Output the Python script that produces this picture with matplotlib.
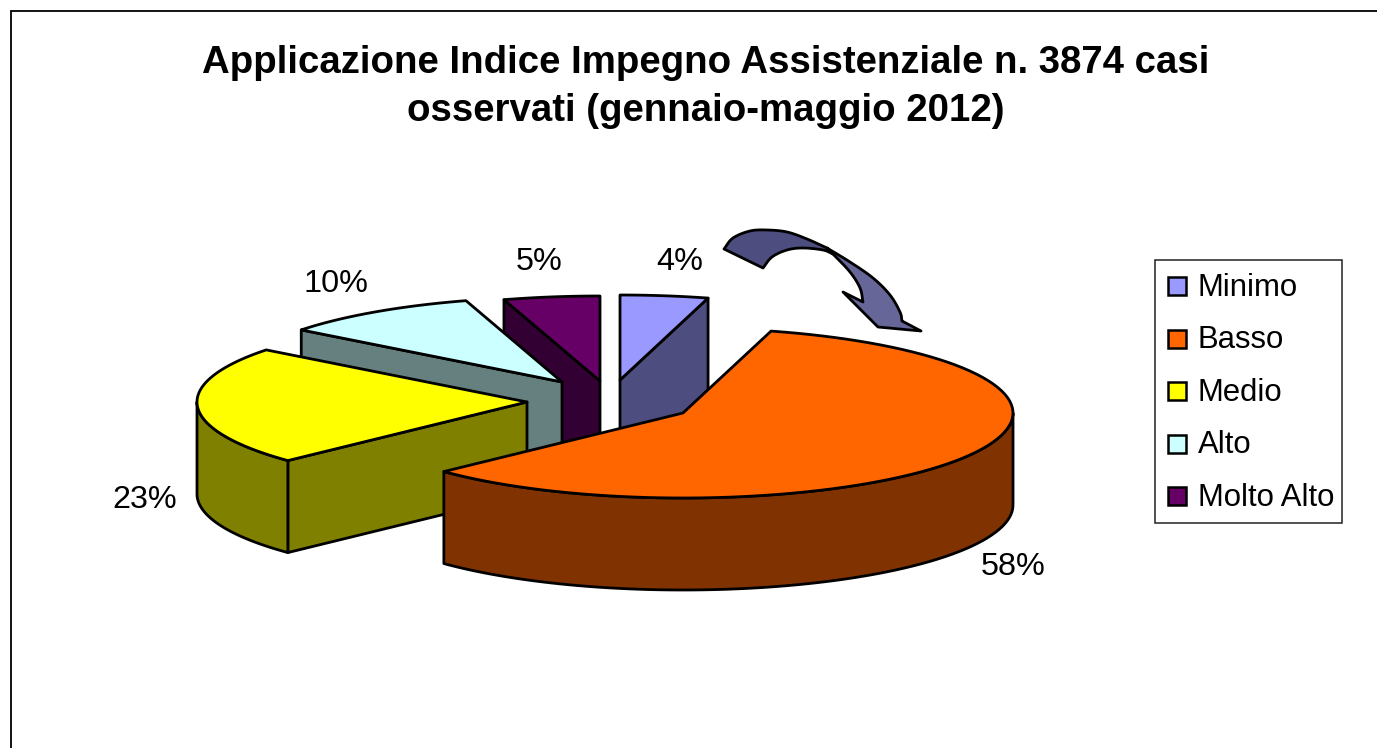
import numpy as np
import matplotlib
matplotlib.use("Agg")
import matplotlib.pyplot as plt
from matplotlib.patches import Polygon, Rectangle

plt.rcParams['font.family'] = ['Liberation Sans', 'DejaVu Sans']

# data
categories = ["Minimo", "Basso", "Medio", "Alto", "Molto Alto"]
values = [4.3, 58.6, 22.6, 9.8, 4.7]
labels = ["4%", "58%", "23%", "10%", "5%"]
title_lines = ["Applicazione Indice Impegno Assistenziale n. 3874 casi",
               "osservati (gennaio-maggio 2012)"]

# style / layout
top_colors = ["#9999FF", "#FF6600", "#FFFF00", "#CCFFFF", "#660066"]
side_colors = ["#4D4D80", "#803300", "#808000", "#668080", "#330033"]
apexes = [(620, 380), (683, 413), (527, 402), (562, 382), (600, 381)]
label_pos = [(680, 262), (1013, 567), (145, 500), (336, 284), (539, 262)]
RX, RY, DEPTH = 330, 85, 92
LW = 2.0

W, H = 1377, 748
fig = plt.figure(figsize=(W / 100, H / 100), dpi=100, facecolor="white")
ax = fig.add_axes([0, 0, 1, 1])
ax.set_xlim(0, W)
ax.set_ylim(H, 0)
ax.axis("off")


def poly(pts, fc, z):
    ax.add_patch(Polygon(pts, closed=True, facecolor=fc, edgecolor="black",
                         linewidth=LW, joinstyle="round", zorder=z))


def rim(apex, a0, a1, n=90):
    t = np.radians(np.linspace(a0, a1, n))
    return np.column_stack([apex[0] + RX * np.sin(t), apex[1] - RY * np.cos(t)])


def drop(pts):
    return np.asarray(pts) + np.array([0, DEPTH])


def smooth(pts, n=10):
    """Catmull-Rom run through outline points of the decorative arrow."""
    p = np.asarray(pts, float)
    p = np.vstack([2 * p[0] - p[1], p, 2 * p[-1] - p[-2]])
    out = []
    for i in range(1, len(p) - 2):
        for t in np.linspace(0, 1, n, endpoint=False):
            out.append(0.5 * (2 * p[i] + (p[i + 1] - p[i - 1]) * t
                              + (2 * p[i - 1] - 5 * p[i] + 4 * p[i + 1] - p[i + 2]) * t ** 2
                              + (3 * p[i] - p[i - 1] - 3 * p[i + 1] + p[i + 2]) * t ** 3))
    out.append(p[-2])
    return np.array(out)


edges = np.concatenate([[0], np.cumsum(values)]) / sum(values) * 360
# painter's order: back slices first, the big front slice last
order = [0, 4, 3, 2, 1]
for rank, i in enumerate(order):
    a0, a1 = edges[i], edges[i + 1]
    ap = apexes[i]
    z = 2 + rank
    arc = rim(ap, a0, a1)
    # radial cut faces
    if np.sin(np.radians(a1)) > 0.001:
        seg = np.array([ap, arc[-1]])
        poly(np.vstack([seg, drop(seg)[::-1]]), side_colors[i], z)
    if np.sin(np.radians(a0)) < -0.001:
        seg = np.array([ap, arc[0]])
        poly(np.vstack([seg, drop(seg)[::-1]]), side_colors[i], z)
    # outer wall: only the front half of the rim
    lo, hi = max(a0, 90), min(a1, 270)
    if hi > lo:
        w = rim(ap, lo, hi)
        poly(np.vstack([w, drop(w)[::-1]]), side_colors[i], z)
    # top face
    poly(np.vstack([[ap], arc]), top_colors[i], z)

for (x, y), s in zip(label_pos, labels):
    ax.text(x, y, s, ha="center", va="center", fontsize=23.3, color="black", zorder=10)

# title
ax.text(705.5, 63, title_lines[0], ha="center", va="center", fontsize=27.6,
        fontweight="bold", color="black")
ax.text(705.5, 111, title_lines[1], ha="center", va="center", fontsize=27.6,
        fontweight="bold", color="black")

# frame
ax.plot([11, 11, 1377], [748, 10.5, 10.5], color="black", lw=1.3, zorder=1,
        solid_joinstyle="miter")

# legend
ax.add_patch(Rectangle((1155, 260), 187, 263, facecolor="white", edgecolor="#222222",
                       linewidth=1.1, zorder=10))
for k, (name, col) in enumerate(zip(categories, top_colors)):
    yc = 286 + k * 52.6
    ax.add_patch(Rectangle((1168, yc - 9), 18, 18, facecolor=col, edgecolor="black",
                           linewidth=1.8, zorder=11))
    ax.text(1198, yc + 1.5, name, ha="left", va="center", fontsize=22.4, color="black", zorder=11)

# arrow between the detached slice and the big slice
dark_outer = [(724, 249), (733, 238), (750, 231), (767, 230), (787, 232), (807, 239), (827, 248)]
dark_inner = [(833, 254), (823, 250), (803, 248), (787, 250), (772, 257), (763, 268)]
light_outer = [(827, 248), (850, 262), (873, 278), (890, 295), (900, 312), (902, 321)]
light_tip = [(921, 331), (878, 327), (843, 292), (863, 302)]
light_inner = [(863, 302), (860, 288), (850, 272), (833, 254)]
poly(np.vstack([smooth(dark_outer), smooth(dark_inner)]), "#4D4D80", 12)
poly(np.vstack([smooth(light_outer), light_tip, smooth(light_inner)]), "#666699", 12)

fig.savefig("out.png", dpi=100, facecolor="white")
